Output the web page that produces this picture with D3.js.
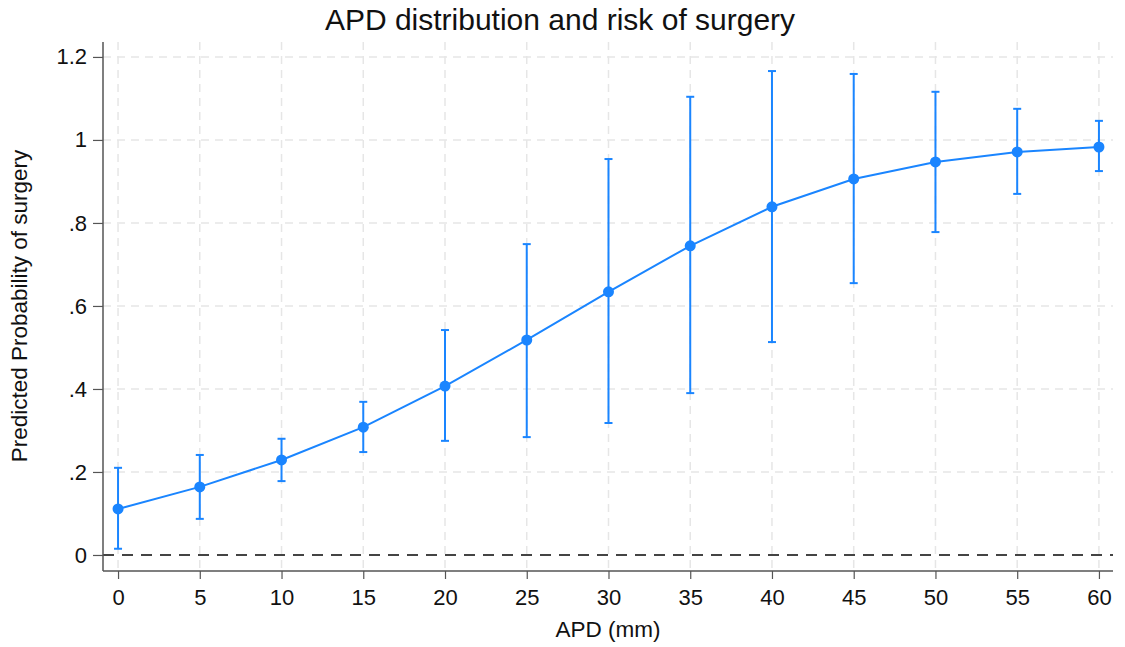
<!DOCTYPE html>
<html><head><meta charset="utf-8">
<script src="https://cdn.jsdelivr.net/npm/d3@7"></script>
<style>body{margin:0;background:#fff;}svg{display:block;font-family:"Liberation Sans",Arial,sans-serif;}</style>
</head><body><svg id="c" width="1125" height="647"></svg>
<script>
const apd = [0,5,10,15,20,25,30,35,40,45,50,55,60];
const prob = [0.111,0.164,0.229,0.308,0.407,0.518,0.634,0.745,0.839,0.906,0.947,0.971,0.983];
const lower = [0.015,0.087,0.178,0.248,0.275,0.284,0.318,0.390,0.513,0.655,0.778,0.870,0.925];
const upper = [0.210,0.241,0.280,0.369,0.542,0.749,0.954,1.104,1.166,1.159,1.116,1.075,1.046];
const xTicks = [0,5,10,15,20,25,30,35,40,45,50,55,60];
const yTicks = [0,0.2,0.4,0.6,0.8,1,1.2];
const yTickLabels = ["0",".2",".4",".6",".8","1","1.2"];

const svg = d3.select("#c");
const L=103, R=1113, T=42, B=571;
const x = d3.scaleLinear().domain([-0.92,60.86]).range([L,R]);
const y = d3.scaleLinear().domain([-0.0386,1.236]).range([B,T]);
const blue = "#1a85ff";

// grid
svg.append("g").selectAll("line").data(xTicks).join("line")
  .attr("x1",d=>x(d)).attr("x2",d=>x(d)).attr("y1",T).attr("y2",B)
  .attr("stroke","#e6e6e6").attr("stroke-width",1.5).attr("stroke-dasharray","8,6");
svg.append("g").selectAll("line").data(yTicks.filter(d=>d>0)).join("line")
  .attr("x1",L).attr("x2",R).attr("y1",d=>y(d)).attr("y2",d=>y(d))
  .attr("stroke","#e6e6e6").attr("stroke-width",1.5).attr("stroke-dasharray","8,6");

// zero reference line
svg.append("line").attr("x1",L).attr("x2",R).attr("y1",y(0)).attr("y2",y(0))
  .attr("stroke","#444").attr("stroke-width",2.2).attr("stroke-dasharray","11,8");

// axes
const xAxis = svg.append("g").attr("transform",`translate(0,${B})`)
  .call(d3.axisBottom(x).tickValues(xTicks).tickSize(8).tickPadding(10).tickFormat(d3.format("d")));
const yAxis = svg.append("g").attr("transform",`translate(${L},0)`)
  .call(d3.axisLeft(y).tickValues(yTicks).tickSize(10).tickPadding(6).tickFormat((d,i)=>yTickLabels[i]));
[xAxis,yAxis].forEach(a=>{
  a.select(".domain").attr("stroke","#555").attr("stroke-width",1.5);
  a.selectAll(".tick line").attr("stroke","#555").attr("stroke-width",1.2);
  a.selectAll(".tick text").attr("font-size",22).attr("fill","#111").attr("font-family","Liberation Sans, Arial, sans-serif");
});
xAxis.select(".domain").attr("d",`M${L},0H${R}`);
yAxis.select(".domain").attr("d",`M0,${B}V${T}`);

// error bars
const idx = d3.range(apd.length);
const eb = svg.append("g").attr("stroke",blue).attr("stroke-width",2);
eb.selectAll("line.v").data(idx).join("line").attr("class","v")
  .attr("x1",i=>x(apd[i])).attr("x2",i=>x(apd[i])).attr("y1",i=>y(lower[i])).attr("y2",i=>y(upper[i]));
eb.selectAll("line.u").data(idx).join("line").attr("class","u")
  .attr("x1",i=>x(apd[i])-4).attr("x2",i=>x(apd[i])+4).attr("y1",i=>y(upper[i])).attr("y2",i=>y(upper[i]));
eb.selectAll("line.l").data(idx).join("line").attr("class","l")
  .attr("x1",i=>x(apd[i])-4).attr("x2",i=>x(apd[i])+4).attr("y1",i=>y(lower[i])).attr("y2",i=>y(lower[i]));

// line
svg.append("path").datum(idx)
  .attr("d",d3.line().x(i=>x(apd[i])).y(i=>y(prob[i])))
  .attr("fill","none").attr("stroke",blue).attr("stroke-width",2);
svg.append("g").selectAll("circle").data(idx).join("circle")
  .attr("cx",i=>x(apd[i])).attr("cy",i=>y(prob[i])).attr("r",5.5).attr("fill",blue);

// titles
svg.append("text").attr("x",560).attr("y",30).attr("text-anchor","middle")
  .attr("font-size",30).attr("fill","#111").text("APD distribution and risk of surgery");
svg.append("text").attr("x",608).attr("y",637).attr("text-anchor","middle")
  .attr("font-size",22.5).attr("fill","#111").text("APD (mm)");
svg.append("text").attr("transform","translate(27,306) rotate(-90)").attr("text-anchor","middle")
  .attr("font-size",22.5).attr("fill","#111").text("Predicted Probability of surgery");
</script></body></html>
